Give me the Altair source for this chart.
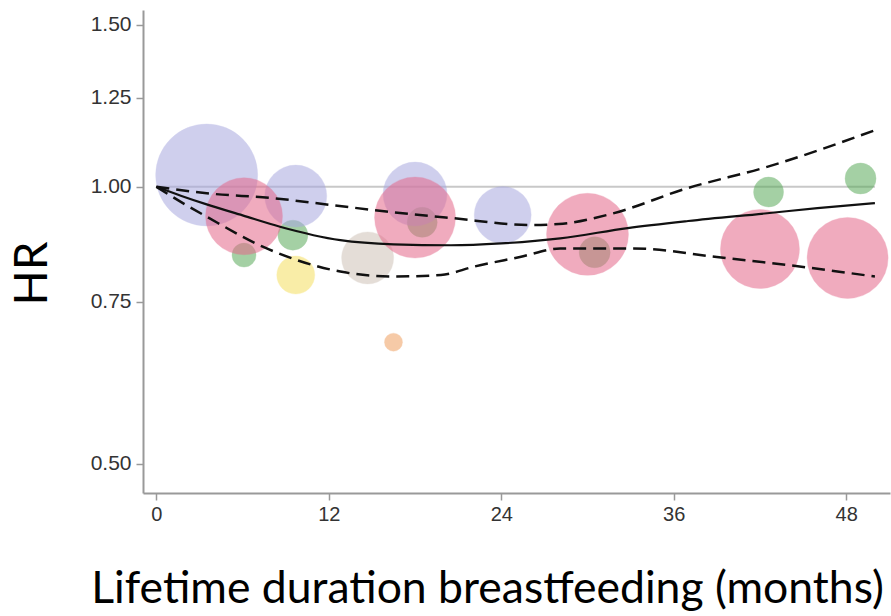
import altair as alt
import pandas as pd

# Study-level estimates: duration (months), hazard ratio, relative weight, study group
# (rows are drawn in this order, so the small group-C studies sit beneath the larger ones)
study_months = [6.1, 9.5, 18.5, 30.5, 42.6, 49.0,
                3.5, 9.7, 18.0, 24.1, 14.7, 9.7, 16.5,
                6.1, 18.0, 30.0, 42.0, 48.1]
study_hr = [0.843, 0.886, 0.915, 0.849, 0.987, 1.021,
            1.03, 0.977, 0.982, 0.932, 0.837, 0.802, 0.678,
            0.929, 0.926, 0.888, 0.856, 0.837]
study_weight = [1.44, 2.25, 2.25, 2.4, 2.25, 2.4,
                26.0, 9.6, 10.2, 8.1, 6.76, 3.6, 0.81,
                14.8, 16.4, 16.8, 15.6, 16.4]
study_group = ["C", "C", "C", "C", "C", "C",
               "A", "A", "A", "A", "D", "E", "F",
               "B", "B", "B", "B", "B"]

group_names = ["A", "B", "C", "D", "E", "F"]
group_colors = ["#a8a8e0", "#e4678a", "#5aaa5a", "#cfc2b8", "#f5e060", "#f0a060"]

# Pooled dose-response curve with its confidence band
fit_months = [0, 1.7, 3.5, 6, 8.6, 12.8, 16.5, 20.5, 24, 28.1, 32.8, 37, 42.5, 46, 50]
fit_hr = [1.0, 0.978, 0.957, 0.931, 0.905, 0.875, 0.866, 0.864, 0.868,
          0.879, 0.902, 0.918, 0.936, 0.948, 0.960]

upper_months = [0, 3.5, 8.1, 12.3, 16.0, 20.5, 26.0, 28.0, 31.6, 36.9, 42.5, 50]
upper_hr = [1.0, 0.984, 0.972, 0.955, 0.940, 0.925, 0.909, 0.911, 0.934,
            0.996, 1.051, 1.152]

lower_months = [0, 1.7, 3.5, 7.4, 12.8, 16.5, 19.8, 22.1, 25.3, 28.1, 33.2, 39, 44, 50]
lower_hr = [1.0, 0.963, 0.928, 0.861, 0.809, 0.799, 0.802, 0.819, 0.839,
            0.857, 0.857, 0.839, 0.822, 0.799]

ref_months = [0, 50]
ref_hr = [1.0, 1.0]

x_ticks = [0, 12, 24, 36, 48]
y_ticks = [0.5, 0.75, 1.0, 1.25, 1.5]

studies = pd.DataFrame({"months": study_months, "hr": study_hr,
                        "weight": study_weight, "group": study_group})
fit = pd.DataFrame({"months": fit_months, "hr": fit_hr})
upper = pd.DataFrame({"months": upper_months, "hr": upper_hr})
lower = pd.DataFrame({"months": lower_months, "hr": lower_hr})
ref = pd.DataFrame({"months": ref_months, "hr": ref_hr})

label_font = "Liberation Sans"
title_font = "Lato"

x_enc = alt.X("months:Q",
              scale=alt.Scale(domain=[-0.93, 51.05], nice=False, zero=False),
              axis=alt.Axis(values=x_ticks, title="Lifetime duration breastfeeding (months)",
                            grid=False, domainColor="#999999", domainWidth=2,
                            tickColor="#999999", tickWidth=1.5, tickSize=7,
                            labelFont=label_font, labelFontSize=20, labelColor="#333333",
                            labelPadding=4,
                            titleFont=title_font, titleFontSize=44.5, titleFontWeight="normal",
                            titleColor="#000000", titleX=344, titleY=109,
                            titleAlign="center", titleBaseline="alphabetic"))
y_enc = alt.Y("hr:Q",
              scale=alt.Scale(type="log", domain=[0.465, 1.556], nice=False, zero=False),
              axis=alt.Axis(values=y_ticks, format=".2f", title="HR",
                            grid=False, domainColor="#999999", domainWidth=2,
                            tickColor="#999999", tickWidth=1.5, tickSize=7,
                            labelFont=label_font, labelFontSize=21, labelColor="#333333",
                            labelPadding=5,
                            titleFont=title_font, titleFontSize=46, titleFontWeight="normal",
                            titleColor="#000000", titleAngle=270, titleX=-111, titleY=263,
                            titleAlign="center", titleBaseline="middle"))

reference = alt.Chart(ref).mark_line(color="#c8c8c8", strokeWidth=2).encode(x=x_enc, y=y_enc)

# circle size is the symbol's square box, so radius = sqrt(size) / 2
bubbles = alt.Chart(studies).mark_circle(opacity=0.55, strokeWidth=1, strokeOpacity=0.35).encode(
    x="months:Q",
    y="hr:Q",
    size=alt.Size("weight:Q", scale=alt.Scale(domain=[0, 10], range=[0, 4000]), legend=None),
    color=alt.Color("group:N", scale=alt.Scale(domain=group_names, range=group_colors), legend=None),
    stroke=alt.Stroke("group:N", scale=alt.Scale(domain=group_names, range=group_colors), legend=None),
)

fit_line = alt.Chart(fit).mark_line(color="#111111", strokeWidth=2.2, interpolate="monotone").encode(
    x="months:Q", y="hr:Q")
upper_line = alt.Chart(upper).mark_line(color="#111111", strokeWidth=2.5, strokeDash=[13, 7],
                                        interpolate="monotone").encode(x="months:Q", y="hr:Q")
lower_line = alt.Chart(lower).mark_line(color="#111111", strokeWidth=2.5, strokeDash=[13, 7],
                                        interpolate="monotone").encode(x="months:Q", y="hr:Q")

chart = alt.layer(reference, bubbles, fit_line, upper_line, lower_line).properties(
    width=747, height=483,
    autosize=alt.AutoSizeParams(type="none"),
    padding={"left": 143, "top": 10, "right": 1, "bottom": 123},
    background="white",
).configure_view(strokeWidth=0)

chart.save("out.html", embed_options={"renderer": "svg", "actions": False})
